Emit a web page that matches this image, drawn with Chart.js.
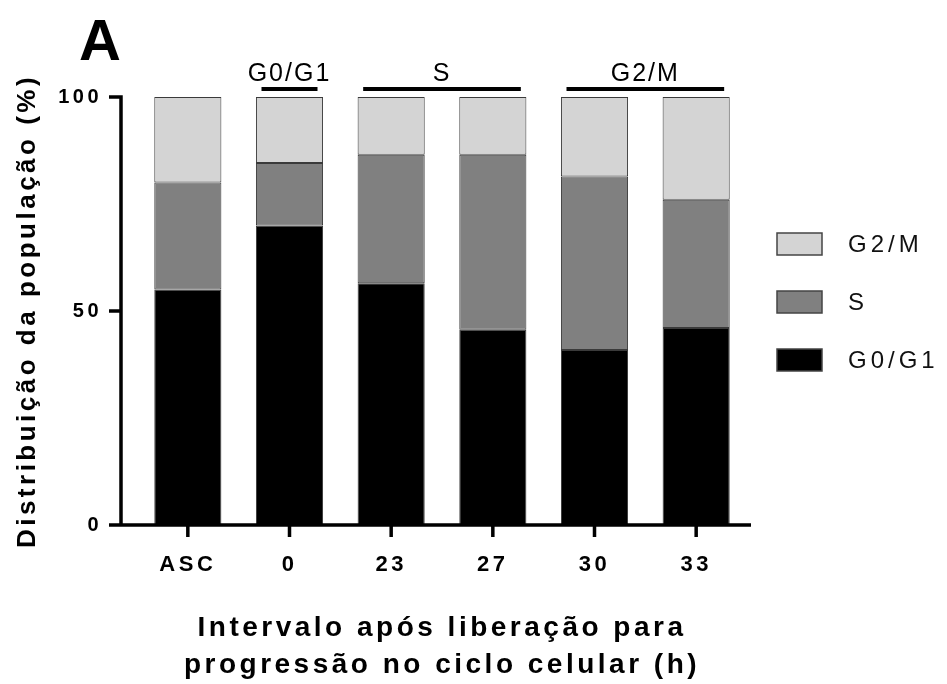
<!DOCTYPE html>
<html>
<head>
<meta charset="utf-8">
<script src="https://cdn.jsdelivr.net/npm/chart.js@4.4.1/dist/chart.umd.min.js"></script>
<style>
  html, body { margin: 0; padding: 0; background: #fff; }
  #wrap { width: 947px; height: 684px; }
</style>
</head>
<body>
<div id="wrap"><canvas id="chart" width="947" height="684"></canvas></div>
<script>
// intervals after release (h)
const categories = ["ASC", "0", "23", "27", "30", "33"];
const g0g1 = [55, 70, 56.5, 45.6, 40.9, 46];
const sPhase = [25, 14.6, 30, 40.9, 40.5, 30];
const g2m = [20, 15.4, 13.5, 13.5, 18.6, 24];
const yTicks = [0, 50, 100];

// phase brackets over the bars
const groupLabels = ["G0/G1", "S", "G2/M"];
const groupFrom = [1, 2, 4];
const groupTo = [1, 3, 5];

const FONT = "'Liberation Sans', Arial, sans-serif";

const frame = {
  id: "frame",
  beforeUpdate(chart) { chart.ctx.letterSpacing = "3.5px"; },
  beforeDraw(chart) { chart.ctx.letterSpacing = "3.5px"; },
  afterDraw(chart) {
    const { ctx, chartArea, scales: { x, y } } = chart;
    const axisX = chartArea.left - 16;
    const y0 = y.getPixelForValue(0);

    ctx.save();
    ctx.strokeStyle = "#000";
    ctx.lineWidth = 3.5;
    ctx.lineCap = "butt";
    ctx.beginPath();
    ctx.moveTo(axisX, y.getPixelForValue(100) - 1.7);
    ctx.lineTo(axisX, y0);
    ctx.lineTo(chartArea.right + 4, y0);
    for (const v of yTicks) {
      const py = y.getPixelForValue(v);
      ctx.moveTo(axisX - 12, py);
      ctx.lineTo(axisX, py);
    }
    categories.forEach((c, i) => {
      const px = x.getPixelForValue(i);
      ctx.moveTo(px, y0);
      ctx.lineTo(px, y0 + 12);
    });
    ctx.stroke();

    // panel letter
    ctx.letterSpacing = "0px";
    ctx.fillStyle = "#000";
    ctx.font = "bold 58px " + FONT;
    ctx.textAlign = "left";
    ctx.textBaseline = "alphabetic";
    ctx.fillText("A", 79, 60);

    // phase brackets
    ctx.font = "25px " + FONT;
    ctx.letterSpacing = "2px";
    ctx.textAlign = "center";
    ctx.lineWidth = 4;
    groupLabels.forEach((lab, k) => {
      const x1 = x.getPixelForValue(groupFrom[k]) - 28;
      const x2 = x.getPixelForValue(groupTo[k]) + 28;
      ctx.beginPath();
      ctx.moveTo(x1, 89);
      ctx.lineTo(x2, 89);
      ctx.stroke();
      ctx.fillText(lab, (x1 + x2) / 2, 81);
    });

    // legend, top to bottom G2/M, S, G0/G1
    const ds = chart.data.datasets.slice().reverse();
    ctx.font = "24px " + FONT;
    ctx.letterSpacing = "4px";
    ctx.textAlign = "left";
    ctx.textBaseline = "middle";
    ctx.lineWidth = 1.5;
    ds.forEach((d, i) => {
      const top = 233 + i * 58;
      ctx.fillStyle = d.backgroundColor;
      ctx.fillRect(777, top, 45, 22);
      ctx.strokeStyle = "#444";
      ctx.strokeRect(777, top, 45, 22);
      ctx.fillStyle = "#111";
      ctx.fillText(d.label, 848, top + 12);
    });
    ctx.restore();
  }
};

const barStyle = {
  borderColor: "#3a3a3a",
  borderWidth: 1,
  borderSkipped: false,
  barPercentage: 0.66,
  categoryPercentage: 1
};

new Chart(document.getElementById("chart"), {
  type: "bar",
  data: {
    labels: categories,
    datasets: [
      Object.assign({ label: "G0/G1", data: g0g1, backgroundColor: "#000000" }, barStyle),
      Object.assign({ label: "S", data: sPhase, backgroundColor: "#808080" }, barStyle),
      Object.assign({ label: "G2/M", data: g2m, backgroundColor: "#d4d4d4" }, barStyle)
    ]
  },
  options: {
    responsive: false,
    devicePixelRatio: 1,
    animation: false,
    layout: { padding: { left: 12, right: 200, top: 97, bottom: 1 } },
    plugins: { legend: { display: false }, tooltip: { enabled: false } },
    scales: {
      x: {
        stacked: true,
        afterFit(scale) { scale.height = 158; },
        grid: { display: false, drawTicks: false },
        border: { display: false },
        ticks: { color: "#000", padding: 27, font: { family: FONT, size: 22, weight: "bold" } },
        title: {
          display: true,
          text: ["Intervalo após liberação para", "progressão no ciclo celular (h)"],
          color: "#000",
          font: { family: FONT, size: 28, weight: "bold", lineHeight: 1.3 },
          padding: { top: 31, bottom: 0 }
        }
      },
      y: {
        stacked: true,
        min: 0,
        max: 100,
        afterFit(scale) { scale.width = 125; },
        grid: { display: false, drawTicks: false },
        border: { display: false },
        ticks: { stepSize: 50, color: "#000", padding: 35, font: { family: FONT, size: 20, weight: "bold" } },
        title: {
          display: true,
          text: "Distribuição da população (%)",
          color: "#000",
          font: { family: FONT, size: 26, weight: "bold", lineHeight: 1.2 },
          padding: { top: 0, bottom: 14 }
        }
      }
    }
  },
  plugins: [frame]
});
</script>
</body>
</html>
